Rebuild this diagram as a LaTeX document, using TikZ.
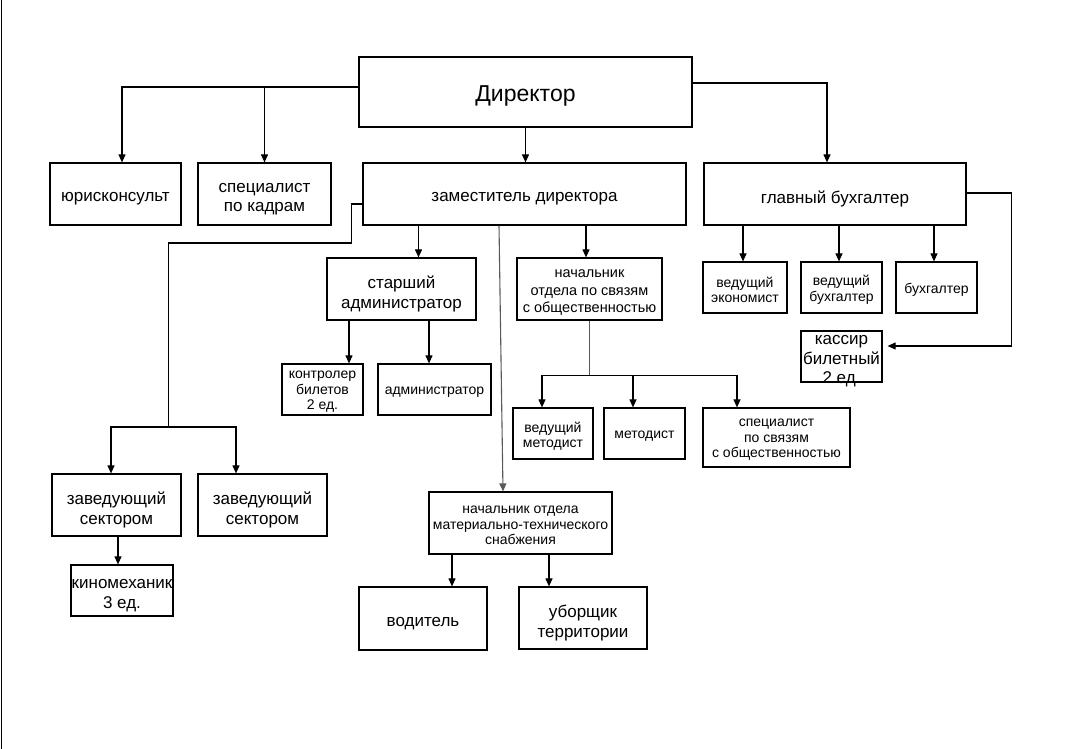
\documentclass[tikz,border=0pt]{standalone}
\usepackage{fontspec}
\setmainfont{Liberation Sans}
\usetikzlibrary{arrows.meta}
\tikzset{
  box/.style={draw, line width=1.2pt, inner sep=0pt},
  T/.style={label={[font=\fontsize{17}{19.5}\selectfont, align=center, yshift=-5pt, inner sep=0pt]center:{#1}}},
  S/.style={label={[font=\fontsize{14}{15.5}\selectfont, align=center, yshift=-2.5pt, inner sep=0pt]center:{#1}}},
  arr/.style={line width=1.1pt, -{Triangle[length=8pt,width=7pt]}},
  conn/.style={line width=1.1pt},
  gconn/.style={line width=1.1pt, draw=black!65},
}
\begin{document}
\begin{tikzpicture}[x=1pt,y=-1pt]
\useasboundingbox (0,0) rectangle (1085,749);
\draw[line width=1pt] (1,0) -- (1,749);
% nodes
\node[box, minimum width=333pt, minimum height=70pt, label={[font=\fontsize{23}{26}\selectfont, yshift=-4pt, inner sep=0pt]center:Директор}] (dir) at (525.5,92) {};
\node[box, minimum width=131pt, minimum height=62pt, T={юрисконсульт}] (yur) at (115.5,194) {};
\node[box, minimum width=133pt, minimum height=62pt, T={специалист\\по кадрам}] (kadr) at (264.5,194) {};
\node[box, minimum width=323pt, minimum height=62pt, T={заместитель директора}] (zam) at (524.5,194) {};
\node[box, minimum width=262pt, minimum height=62pt, T={главный бухгалтер}] (glb) at (835,194) {};
\node[box, minimum width=84pt, minimum height=51pt, S={ведущий\\экономист}] (vecon) at (745,287.5) {};
\node[box, minimum width=81pt, minimum height=51pt, S={ведущий\\бухгалтер}] (vbuh) at (841.5,287.5) {};
\node[box, minimum width=81pt, minimum height=51pt, S={бухгалтер}] (buh) at (936.5,287.5) {};
\node[box, minimum width=81pt, minimum height=51pt, T={кассир\\билетный\\2 ед.}] (kass) at (841.5,356.5) {};
\node[box, minimum width=149pt, minimum height=62pt, T={старший\\администратор}] (stadm) at (401.5,289) {};
\node[box, minimum width=145pt, minimum height=62pt, label={[font=\fontsize{14.5}{17.5}\selectfont, align=center, yshift=-4pt, inner sep=0pt]center:{начальник\\отдела по связям\\с общественностью}}] (nso) at (589.5,289) {};
\node[box, minimum width=81pt, minimum height=51pt, S={контролер\\билетов\\2 ед.}] (kontr) at (322.5,389.5) {};
\node[box, minimum width=113pt, minimum height=51pt, S={администратор}] (adm) at (434.5,389.5) {};
\node[box, minimum width=80pt, minimum height=51pt, S={ведущий\\методист}] (vmet) at (553,433.5) {};
\node[box, minimum width=81pt, minimum height=51pt, S={методист}] (met) at (644.5,433.5) {};
\node[box, minimum width=147pt, minimum height=59pt, S={специалист\\по связям\\с общественностью}] (spso) at (776.5,437.5) {};
\node[box, minimum width=129pt, minimum height=62pt, T={заведующий\\сектором}] (zav1) at (116.5,505) {};
\node[box, minimum width=129pt, minimum height=62pt, T={заведующий\\сектором}] (zav2) at (262.5,505) {};
\node[box, minimum width=102pt, minimum height=51pt, T={киномеханик\\3 ед.}] (kino) at (122,590.5) {};
\node[box, minimum width=183pt, minimum height=62pt, S={начальник отдела\\материально-технического\\снабжения}] (mts) at (520.5,523) {};
\node[box, minimum width=128pt, minimum height=63pt, T={водитель}] (vod) at (423,618.5) {};
\node[box, minimum width=128pt, minimum height=62pt, T={уборщик\\территории}] (ubor) at (583,618) {};
% director connectors
\coordinate (dL) at ([yshift=5pt]dir.west);
\draw[arr] (dL) -| ([xshift=6.5pt]yur.north);
\draw[arr] (kadr.north |- dL) -- (kadr.north);
\draw[arr] (dir.south) -- (dir.south |- zam.north);
\draw[arr] ([yshift=9pt]dir.east) -| ([xshift=-8pt]glb.north);
% chief accountant
\draw[arr] ([xshift=-2pt]vecon.north |- glb.south) -- ([xshift=-2pt]vecon.north);
\draw[arr] ([xshift=-2.5pt]vbuh.north |- glb.south) -- ([xshift=-2.5pt]vbuh.north);
\draw[arr] ([xshift=-2.5pt]buh.north |- glb.south) -- ([xshift=-2.5pt]buh.north);
\draw[arr] ([yshift=1pt]glb.east) -- ++(45,0) |- ([yshift=10.5pt,xshift=5pt]kass.east);
% deputy
\draw[conn] ([yshift=-10pt]zam.west) -- ++(-11,0) -- ++(0,39) -- ++(-183,0) -- ++(0,184) coordinate (zj);
\draw[arr] (zj) -| ([xshift=-5.5pt]zav1.north);
\draw[arr] (zj) -| ([xshift=-26.5pt]zav2.north);
\draw[arr] ([xshift=1.5pt]zav1.south) -- ([xshift=1.5pt]zav1.south |- kino.north);
\draw[arr] ([xshift=17pt]stadm.north |- zam.south) -- ([xshift=17pt]stadm.north);
\draw[arr] ([xshift=-3.5pt]nso.north |- zam.south) -- ([xshift=-3.5pt]nso.north);
\draw[gconn, -{Triangle[length=8pt,width=7pt]}] ([xshift=-25.5pt]zam.south) -- ([xshift=-17.5pt]mts.north);
% senior administrator
\draw[arr] ([xshift=26.5pt]kontr.north |- stadm.south) -- ([xshift=26.5pt]kontr.north);
\draw[arr] ([xshift=-5.5pt]adm.north |- stadm.south) -- ([xshift=-5.5pt]adm.north);
% PR department
\draw[gconn] (nso.south) -- ++(0,55) coordinate (nj);
\draw[arr] (nj) -| ([xshift=-11pt]vmet.north);
\draw[arr] (nj) -| ([xshift=-39.5pt]spso.north);
\draw[arr] ([xshift=-11.5pt]met.north |- nj) -- ([xshift=-11.5pt]met.north);
% supply department
\draw[arr] ([xshift=29pt]vod.north |- mts.south) -- ([xshift=29pt]vod.north);
\draw[arr] ([xshift=-34pt]ubor.north |- mts.south) -- ([xshift=-34pt]ubor.north);
\end{tikzpicture}
\end{document}
